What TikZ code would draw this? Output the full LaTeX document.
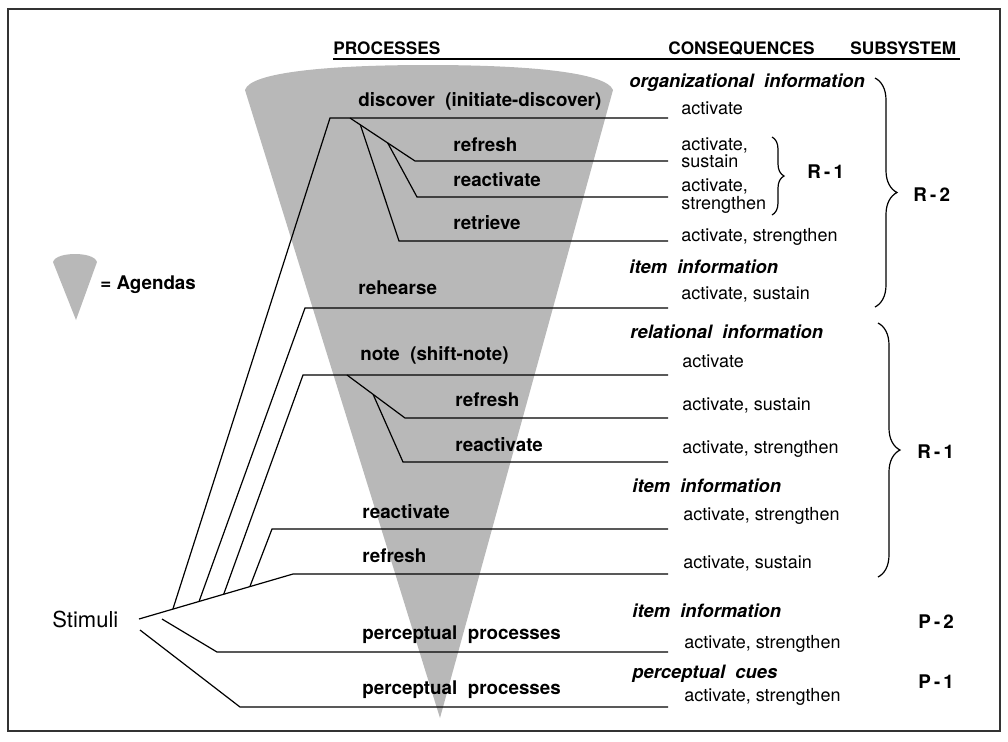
\documentclass[tikz,border=0pt]{standalone}
\usepackage{fontspec}
\setmainfont{TeX Gyre Heros}
\usepackage{tikz}
\usetikzlibrary{calc}
\usetikzlibrary{decorations.pathreplacing}

\begin{document}
\begin{tikzpicture}[x=0.5pt,y=-0.5pt,
		txt/.style={anchor=west,inner sep=0pt,text height=6pt,text depth=0pt},
		proc/.style={txt,font=\fontsize{9.4}{10}\selectfont\bfseries},
		cons/.style={txt,font=\fontsize{9}{10}\selectfont},
		pair/.style={anchor=west,inner sep=0pt,align=left,font=\fontsize{9}{8.7}\selectfont},
		kind/.style={txt,font=\fontsize{9.2}{10}\selectfont\bfseries\itshape},
		head/.style={txt,font=\fontsize{8.6}{10}\selectfont\bfseries},
		link/.style={line width=0.6pt},
		agenda/.style={fill=black!28},
		curly/.style={decorate,decoration={brace,amplitude=#1},line width=0.6pt},
		curly/.default=10pt]
	\useasboundingbox (0,0) rectangle (1008,741);
	\draw[line width=1.1pt,black!80] (8,9) rectangle (1000,731);

	\fill[agenda] (245,90) .. controls (250,72) and (330,65) .. (428,65) .. controls (526,65) and (606,72) .. (613,90) -- (440,718) -- cycle;
	\fill[agenda] (53,262) .. controls (55,256) and (66,254) .. (75,254) .. controls (84,254) and (95,256) .. (97,262) -- (76,320) -- cycle;
	\node[proc] (agendas) at (100,283) {= Agendas};

	\node[head] (hproc) at (333,48) {PROCESSES};
	\node[head] (hcons) at (668,48) {CONSEQUENCES};
	\node[head] (hsub) at (850,48) {SUBSYSTEM};
	\coordinate (rulel) at (333,59);
	\coordinate (ruler) at (960,59);
	\draw[line width=1.3pt] (rulel) -- (ruler);

	\node[proc] (discover) at (358,100) {discover~~(initiate-discover)};
	\node[proc] (refreshA) at (453,145) {refresh};
	\node[proc] (reactA) at (453,180) {reactivate};
	\node[proc] (retrieve) at (453,223) {retrieve};
	\node[proc] (rehearse) at (358,288) {rehearse};
	\node[proc] (note) at (360,354) {note~~(shift-note)};
	\node[proc] (refreshB) at (455,400) {refresh};
	\node[proc] (reactB) at (455,445) {reactivate};
	\node[proc] (reactC) at (362,512) {reactivate};
	\node[proc] (refreshC) at (362,556) {refresh};
	\node[proc] (perceptB) at (362,633) {perceptual~~processes};
	\node[proc] (perceptA) at (362,688) {perceptual~~processes};

	\node[kind] (org) at (629,81) {organizational~~information};
	\node[cons] (c1) at (681,108) {activate};
	\node[pair] (c2) at (681,153) {activate,\\sustain};
	\node[pair] (c3) at (681,196) {activate,\\strengthen};
	\node[cons] (c4) at (681,235) {activate, strengthen};
	\node[kind] (itemA) at (629,267) {item~~information};
	\node[cons] (c5) at (681,293) {activate, sustain};
	\node[kind] (rel) at (630,332) {relational~~information};
	\node[cons] (c6) at (682,361) {activate};
	\node[cons] (c7) at (682,404) {activate, sustain};
	\node[cons] (c8) at (682,447) {activate, strengthen};
	\node[kind] (itemB) at (632,486) {item~~information};
	\node[cons] (c9) at (683,514) {activate, strengthen};
	\node[cons] (c10) at (683,562) {activate, sustain};
	\node[kind] (itemC) at (632,611) {item~~information};
	\node[cons] (c11) at (684,642) {activate, strengthen};
	\node[kind] (cues) at (632,672) {perceptual~~cues};
	\node[cons] (c12) at (684,695) {activate, strengthen};

	\draw[curly=6pt] (772,137) -- (772,215);
	\node[proc] (rA) at (807,172) {R\,-\,1};
	\draw[curly=11pt] (875,78) -- (875,307);
	\node[proc] (rB) at (913,195) {R\,-\,2};
	\draw[curly=11pt] (878,323) -- (878,577);
	\node[proc] (rC) at (917,452) {R\,-\,1};
	\node[proc] (pB) at (918,622) {P\,-\,2};
	\node[proc] (pA) at (918,682) {P\,-\,1};

	\node[anchor=west,inner sep=0pt,font=\fontsize{11}{12}\selectfont] (stimuli) at (52,619) {Stimuli};
	\coordinate (stim) at (139,619);
	\coordinate (turn) at (293,574);
	\coordinate (f1) at ($(stim)!0.22!(turn)$);
	\coordinate (f2) at ($(stim)!0.39!(turn)$);
	\coordinate (f3) at ($(stim)!0.55!(turn)$);
	\coordinate (f4) at ($(stim)!0.72!(turn)$);
	\coordinate (g1) at (162,619);
	\coordinate (g2) at (140,630);

	\coordinate (discL) at (330,118);
	\coordinate (discR) at (668,118);
	\coordinate (dB) at (350,118);
	\coordinate (drefL) at (415,161);
	\coordinate (drefR) at (668,161);
	\coordinate (dC) at ($(dB)!0.58!(drefL)$);
	\coordinate (dreacL) at (417,197);
	\coordinate (dreacR) at (668,197);
	\coordinate (dD) at ($(dB)!0.16!(drefL)$);
	\coordinate (dretL) at (399,241);
	\coordinate (dretR) at (668,241);
	\coordinate (rehL) at (305,308);
	\coordinate (rehR) at (668,308);
	\coordinate (noteL) at (303,375);
	\coordinate (noteR) at (668,375);
	\coordinate (nB) at (347,375);
	\coordinate (nrefL) at (405,418);
	\coordinate (nrefR) at (668,418);
	\coordinate (nC) at ($(nB)!0.45!(nrefL)$);
	\coordinate (nreacL) at (403,462);
	\coordinate (nreacR) at (668,462);
	\coordinate (reacL) at (272,529);
	\coordinate (reacR) at (668,529);
	\coordinate (refR) at (668,574);
	\coordinate (pBL) at (217,652);
	\coordinate (pBR) at (668,652);
	\coordinate (pAL) at (240,707);
	\coordinate (pAR) at (668,707);

	\draw[link] (stim) -- (turn) -- (refR);
	\draw[link] (f1) -- (discL) -- (discR);
	\draw[link] (f2) -- (rehL) -- (rehR);
	\draw[link] (f3) -- (noteL) -- (noteR);
	\draw[link] (f4) -- (reacL) -- (reacR);
	\draw[link] (g1) -- (pBL) -- (pBR);
	\draw[link] (g2) -- (pAL) -- (pAR);
	\draw[link] (dB) -- (drefL) -- (drefR);
	\draw[link] (dC) -- (dreacL) -- (dreacR);
	\draw[link] (dD) -- (dretL) -- (dretR);
	\draw[link] (nB) -- (nrefL) -- (nrefR);
	\draw[link] (nC) -- (nreacL) -- (nreacR);
\end{tikzpicture}
\end{document}
